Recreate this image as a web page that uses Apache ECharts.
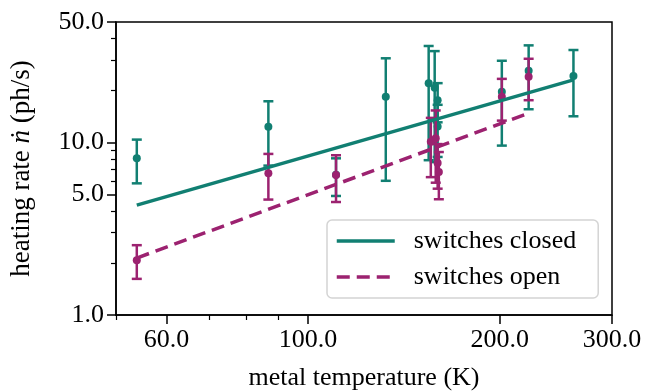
<!DOCTYPE html>
<html>
<head>
<meta charset="utf-8">
<script src="https://cdn.jsdelivr.net/npm/echarts@6/dist/echarts.min.js"></script>
<style>
html,body{margin:0;padding:0;background:#fff;}
#chart{width:655px;height:392px;}
</style>
</head>
<body>
<div id="chart"></div>
<script>
// ---- data ----
// switches closed: temperature (K), heating rate (ph/s), error
const closedT   = [53.9, 86.7, 110.7, 132.5, 154.7, 158.1, 159.8, 159.8, 201.5, 222.0, 261.0];
const closedR   = [8.1, 12.35, 6.5, 18.4, 22.1, 20.8, 17.6, 12.4, 19.7, 26.1, 24.3];
const closedErr = [2.3, 5.0, 1.6, 12.4, 14.2, 13.1, 4.5, 4.15, 10.1, 10.5, 10.1];
// switches open
const openT   = [53.9, 86.7, 110.7, 155.9, 158.7, 159.8, 160.5, 201.5, 222.0];
const openR   = [2.08, 6.63, 6.48, 10.1, 10.6, 7.6, 6.75, 18.4, 24.1];
const openErr = [0.46, 1.96, 1.96, 3.8, 4.75, 2.2, 2.06, 5.0, 6.5];
// power-law fit lines (end points)
const closedFitT = [53.9, 261.0];
const closedFitR = [4.34, 23.1];
const openFitT   = [53.9, 222.0];
const openFitR   = [2.14, 14.8];
// axis ticks
const xMajorTicks = [60, 100, 200, 300];
const xMinorTicks = [50, 70, 80, 90];
const yMajorTicks = [1, 5, 10, 50];
const yMinorTicks = [2, 3, 4, 6, 7, 8, 9, 20, 30, 40];
const seriesNames = ['switches closed', 'switches open'];

const TEAL = '#117f72';
const MAG = '#9c2270';
const FONT = '"Liberation Serif", "DejaVu Serif", serif';

function zip3(a, b, c) { return a.map((v, i) => [v, b[i], c[i]]); }
function zip2(a, b) { return a.map((v, i) => [v, b[i]]); }

function errRender(color) {
  return function (params, api) {
    const x = api.value(0), y = api.value(1), e = api.value(2);
    const top = api.coord([x, y + e]);
    const bot = api.coord([x, y - e]);
    const hw = 5;
    const st = { stroke: color, lineWidth: 2.5 };
    return {
      type: 'group',
      children: [
        { type: 'line', shape: { x1: top[0], y1: top[1], x2: bot[0], y2: bot[1] }, style: st },
        { type: 'line', shape: { x1: top[0] - hw, y1: top[1], x2: top[0] + hw, y2: top[1] }, style: st },
        { type: 'line', shape: { x1: bot[0] - hw, y1: bot[1], x2: bot[0] + hw, y2: bot[1] }, style: st }
      ]
    };
  };
}

const labelStyle = { fontFamily: FONT, fontSize: 26, color: '#000' };

const chart = echarts.init(document.getElementById('chart'));
chart.setOption({
  animation: false,
  backgroundColor: '#fff',
  grid: { left: 116, right: 43, top: 22, bottom: 77, show: true, borderColor: '#000', borderWidth: 1.5,
          backgroundColor: 'transparent', containLabel: false, outerBoundsMode: 'none' },
  legend: {
    data: seriesNames,
    orient: 'vertical',
    left: 327, top: 220,
    itemWidth: 58, itemHeight: 14, itemGap: 8,
    padding: [7, 22, 7, 8],
    backgroundColor: 'rgba(255,255,255,0.85)',
    borderColor: '#d4d4d4', borderWidth: 1.5, borderRadius: 5,
    itemStyle: { color: 'transparent', borderColor: 'transparent', borderWidth: 0 },
    lineStyle: { width: 3.5 },
    textStyle: { fontFamily: FONT, fontSize: 26, color: '#000', lineHeight: 28, padding: [0, 0, 0, 14] }
  },
  xAxis: [
    {
      type: 'log', logBase: 10, min: 50, max: 300, position: 'bottom',
      name: 'metal temperature (K)', nameLocation: 'middle', nameGap: 50,
      nameTextStyle: labelStyle,
      axisLine: { show: true, lineStyle: { color: '#000', width: 1.5 } },
      axisTick: { show: true, length: 9, lineStyle: { color: '#000', width: 1.5 }, customValues: xMajorTicks },
      axisLabel: { show: true, margin: 12, customValues: xMajorTicks, formatter: v => Number(v).toFixed(1), ...labelStyle },
      splitLine: { show: false }, minorTick: { show: false }
    },
    {
      type: 'log', logBase: 10, min: 50, max: 300, position: 'bottom',
      axisLine: { show: false },
      axisTick: { show: true, length: 5, lineStyle: { color: '#000', width: 1.2 }, customValues: xMinorTicks },
      axisLabel: { show: false },
      splitLine: { show: false }
    }
  ],
  yAxis: [
    {
      type: 'log', logBase: 10, min: 1, max: 50, position: 'left',
      name: '{a|heating rate }{i|ṅ}{a| (ph/s)}', nameLocation: 'middle', nameGap: 81,
      nameTextStyle: { ...labelStyle, rich: { a: { ...labelStyle, fontSize: 27 }, i: { ...labelStyle, fontSize: 27, fontStyle: 'italic' } } },
      axisLine: { show: true, lineStyle: { color: '#000', width: 1.5 } },
      axisTick: { show: true, length: 9, lineStyle: { color: '#000', width: 1.5 }, customValues: yMajorTicks },
      axisLabel: { show: true, margin: 12, customValues: yMajorTicks, formatter: v => Number(v).toFixed(1), ...labelStyle },
      splitLine: { show: false }, minorTick: { show: false }
    },
    {
      type: 'log', logBase: 10, min: 1, max: 50, position: 'left',
      axisLine: { show: false },
      axisTick: { show: true, length: 5, lineStyle: { color: '#000', width: 1.2 }, customValues: yMinorTicks },
      axisLabel: { show: false },
      splitLine: { show: false }
    }
  ],
  series: [
    { name: 'closedErr', type: 'custom', xAxisIndex: 0, yAxisIndex: 0, z: 2,
      renderItem: errRender(TEAL), encode: { x: 0, y: 1 }, data: zip3(closedT, closedR, closedErr) },
    { name: 'closedPts', type: 'scatter', xAxisIndex: 0, yAxisIndex: 0, z: 3, symbolSize: 8,
      itemStyle: { color: TEAL, opacity: 1 }, data: zip2(closedT, closedR) },
    { name: 'openErr', type: 'custom', xAxisIndex: 0, yAxisIndex: 0, z: 4,
      renderItem: errRender(MAG), encode: { x: 0, y: 1 }, data: zip3(openT, openR, openErr) },
    { name: 'openPts', type: 'scatter', xAxisIndex: 0, yAxisIndex: 0, z: 5, symbolSize: 8,
      itemStyle: { color: MAG, opacity: 1 }, data: zip2(openT, openR) },
    { name: seriesNames[0], type: 'line', xAxisIndex: 0, yAxisIndex: 0, z: 6, symbol: 'none',
      color: TEAL, lineStyle: { color: TEAL, width: 3.5 }, data: zip2(closedFitT, closedFitR) },
    { name: seriesNames[1], type: 'line', xAxisIndex: 0, yAxisIndex: 0, z: 7, symbol: 'none',
      color: MAG, lineStyle: { color: MAG, width: 3.5, type: [13, 7] }, data: zip2(openFitT, openFitR) }
  ]
});
</script>
</body>
</html>
